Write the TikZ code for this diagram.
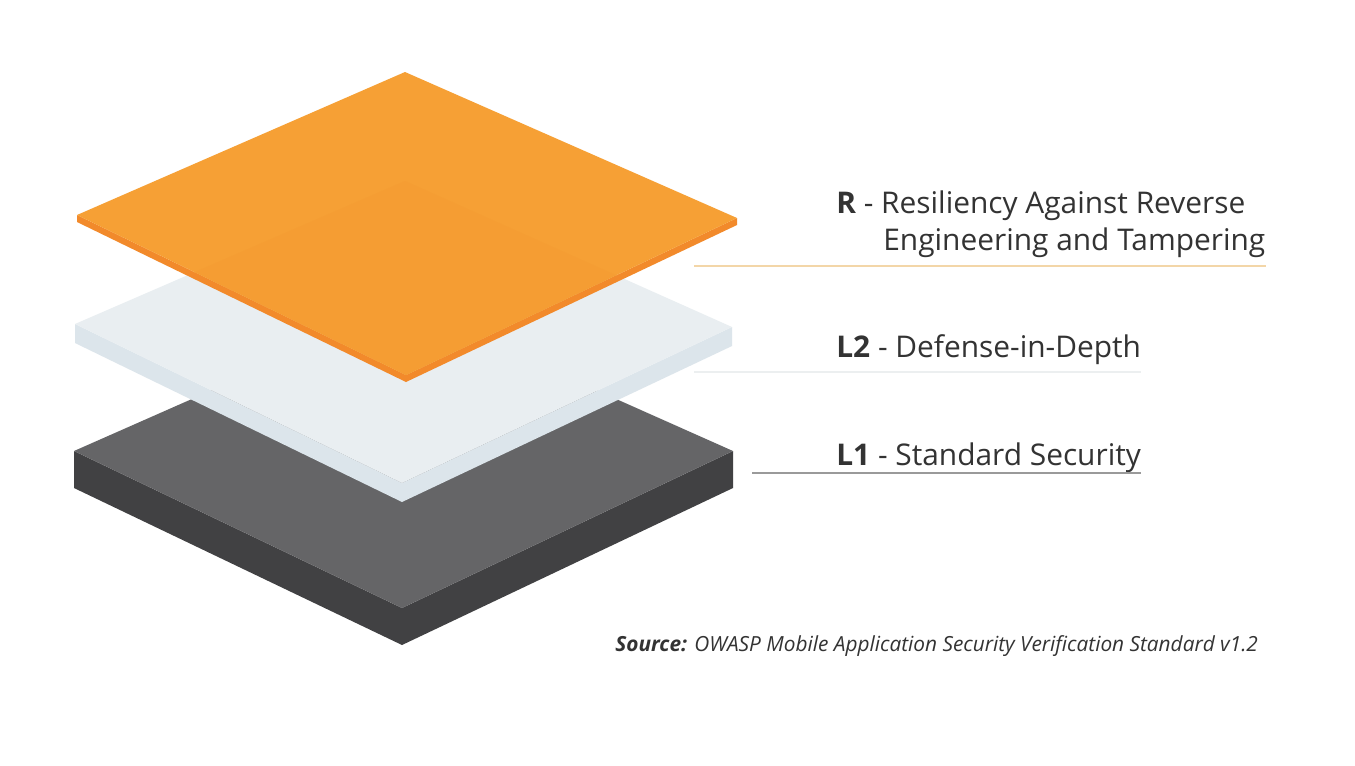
\documentclass[tikz,border=0pt]{standalone}
\usepackage{fontspec}
\setmainfont{Open Sans}
\usepackage{tikz}
\usetikzlibrary{positioning}

\definecolor{orangetop}{HTML}{F6A035}
\definecolor{orangeside}{HTML}{F28A2B}
\definecolor{orangeshade}{HTML}{F59D33}
\definecolor{whitetop}{HTML}{E9EEF1}
\definecolor{whiteside}{HTML}{DCE5EB}
\definecolor{darktop}{HTML}{656567}
\definecolor{darkside}{HTML}{414143}
\definecolor{textgrey}{HTML}{333333}
\definecolor{rline}{HTML}{F3D6A8}
\definecolor{ltwoline}{HTML}{ECEFF0}
\definecolor{loneline}{HTML}{9A9A9A}

\begin{document}
\begin{tikzpicture}[x=0.02cm,y=-0.02cm,
	level/.style={anchor=base west,inner sep=0pt,text=textgrey,font=\fontsize{17}{20}\selectfont},
	rule/.style={line width=0.9pt}]
	\fill[white] (0,0) rectangle (1355,765);
	\useasboundingbox (0,0) rectangle (1355,765);
	% plates, bottom to top
	\foreach \ty/\lx/\ly/\bx/\by/\rx/\ry/\h/\top/\side in {
		305/74/451/402/608/733/451/37/darktop/darkside,
		181/75/324/402/483/732/327/19/whitetop/whiteside,
		72/77/215/406/375/737/218/7/orangetop/orangeside}{
		\fill[\side] (\lx,\ly) -- (\bx,\by) -- (\rx,\ry) -- (\rx,\ry+\h) -- (\bx,\by+\h) -- (\lx,\ly+\h) -- cycle;
		\fill[\top] (405,\ty) -- (\lx,\ly) -- (\bx,\by) -- (\rx,\ry) -- cycle;
	}
	\begin{scope}
		\clip (406,72) -- (77,215) -- (406,375) -- (737,218) -- cycle;
		\fill[orangeshade] (405,181) -- (75,324) -- (402,483) -- (732,327) -- cycle;
	\end{scope}
	% labels
	\node[level] (rtitle) at (836,213) {\textbf{R} - Resiliency Against Reverse};
	\node[level] (rsub) at (883,250) {Engineering and Tampering};
	\node[level] (ltwo) at (836,357) {\textbf{L2} - Defense-in-Depth};
	\node[level] (lone) at (836,465) {\textbf{L1} - Standard Security};
	\coordinate (rstart) at (694,266);
	\coordinate (ltwostart) at (694,372);
	\coordinate (lonestart) at (752,473);
	\draw[rule,rline] (rstart) -- (rstart -| rsub.east);
	\draw[rule,ltwoline] (ltwostart) -- (ltwostart -| ltwo.east);
	\draw[rule,loneline] (lonestart) -- (lonestart -| lone.east);
	\node[anchor=base west,inner sep=0pt,text=textgrey,font=\fontsize{11.85}{14}\selectfont] (source) at (615,651)
		{\textbf{\textit{Source:}} \textit{OWASP Mobile Application Security Verification Standard v1.2}};
\end{tikzpicture}
\end{document}
